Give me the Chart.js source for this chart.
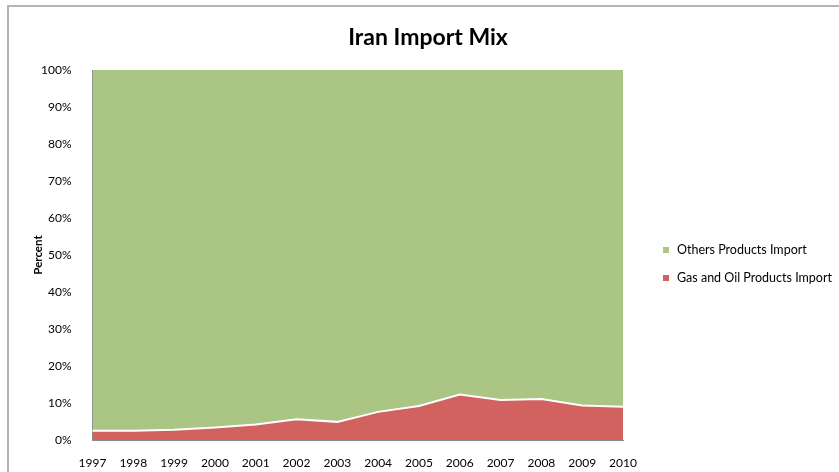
<!DOCTYPE html>
<html>
<head>
<meta charset="utf-8">
<title>Iran Import Mix</title>
<script src="https://cdn.jsdelivr.net/npm/chart.js@4/dist/chart.umd.min.js"></script>
<style>
  html, body { margin: 0; padding: 0; background: #fff; }
  #wrap { width: 839px; height: 472px; position: relative; }
</style>
</head>
<body>
<div id="wrap"><canvas id="myChart"></canvas></div>
<script>
const years = ["1997","1998","1999","2000","2001","2002","2003","2004","2005","2006","2007","2008","2009","2010"];
// share of gas and oil products in total imports, percent
const gasOilShare = [2.5, 2.5, 2.8, 3.4, 4.2, 5.6, 4.9, 7.6, 9.2, 12.3, 10.8, 11.1, 9.3, 9.0];
// the rest of the imports
const othersShare = [97.5, 97.5, 97.2, 96.6, 95.8, 94.4, 95.1, 92.4, 90.8, 87.7, 89.2, 88.9, 90.7, 91.0];
const yTicks = [0, 10, 20, 30, 40, 50, 60, 70, 80, 90, 100];

const FONT = "Lato, 'Open Sans', sans-serif";

// grey frame round the whole chart
const framePlugin = {
  id: "frame",
  beforeDraw(chart) {
    const c = chart.ctx;
    c.save();
    c.strokeStyle = "#b4b4b4";
    c.lineWidth = 2;
    c.beginPath();
    c.moveTo(8, chart.height + 5);
    c.lineTo(8, 6);
    c.lineTo(chart.width + 5, 6);
    c.stroke();
    c.restore();
  }
};

// legend on the right, drawn by hand so it does not eat plot width
const sideLegend = {
  id: "sideLegend",
  afterDraw(chart) {
    const c = chart.ctx;
    const sets = chart.data.datasets.slice().reverse();
    c.save();
    c.font = "12.5px " + FONT;
    c.textBaseline = "middle";
    sets.forEach((ds, i) => {
      const y = 250 + i * 28;
      c.fillStyle = ds.backgroundColor;
      c.fillRect(663, y - 3, 6, 6);
      c.fillStyle = "#000";
      c.fillText(ds.label, 677, y);
    });
    c.restore();
  }
};

const ctx = document.getElementById("myChart");

new Chart(ctx, {
  type: "line",
  data: {
    labels: years,
    datasets: [
      {
        label: "Gas and Oil Products Import",
        data: gasOilShare,
        backgroundColor: "#d16260",
        borderColor: "#ffffff",
        borderWidth: 2,
        fill: "origin",
        pointRadius: 0,
        tension: 0,
      },
      {
        label: "Others Products Import",
        data: othersShare,
        backgroundColor: "#abc584",
        borderColor: "#abc584",
        borderWidth: 0,
        fill: "-1",
        pointRadius: 0,
        tension: 0,
      }
    ],
  },
  options: {
    responsive: true,
    maintainAspectRatio: false,
    animation: false,
    layout: { padding: { left: 17, top: 0, right: 0, bottom: 0 } },
    plugins: {
      legend: { display: false },
      tooltip: { enabled: false },
      title: {
        display: true,
        text: "Iran Import Mix",
        color: "#000",
        font: { family: FONT, size: 23, weight: "bold", lineHeight: 1.2 },
        padding: { top: 24, bottom: 18.4 },
      },
    },
    scales: {
      x: {
        offset: false,
        grid: { display: false },
        border: { display: true, color: "#8c8c8c", width: 1 },
        ticks: {
          color: "#000",
          font: { family: FONT, size: 12 },
          maxRotation: 0,
          autoSkip: false,
          padding: 8,
        },
        afterFit(scale) { scale.height = 32; },
      },
      y: {
        stacked: true,
        min: 0,
        max: 100,
        grid: { display: false },
        border: { display: true, color: "#8c8c8c", width: 1 },
        afterBuildTicks(scale) { scale.ticks = yTicks.map(v => ({ value: v })); },
        ticks: {
          color: "#000",
          font: { family: FONT, size: 12 },
          padding: 13,
          callback: (v) => v + "%",
        },
        title: {
          display: true,
          text: "Percent",
          color: "#000",
          font: { family: FONT, size: 11.5, weight: "bold", lineHeight: 1.2 },
          padding: { top: 14, bottom: 0 },
        },
        afterFit(scale) { scale.width = 75.5; },
      },
      side: {
        position: "right",
        display: true,
        grid: { display: false },
        border: { display: false },
        ticks: { display: false },
        afterFit(scale) { scale.width = 216; },
      },
    },
  },
  plugins: [framePlugin, sideLegend],
});
</script>
</body>
</html>
